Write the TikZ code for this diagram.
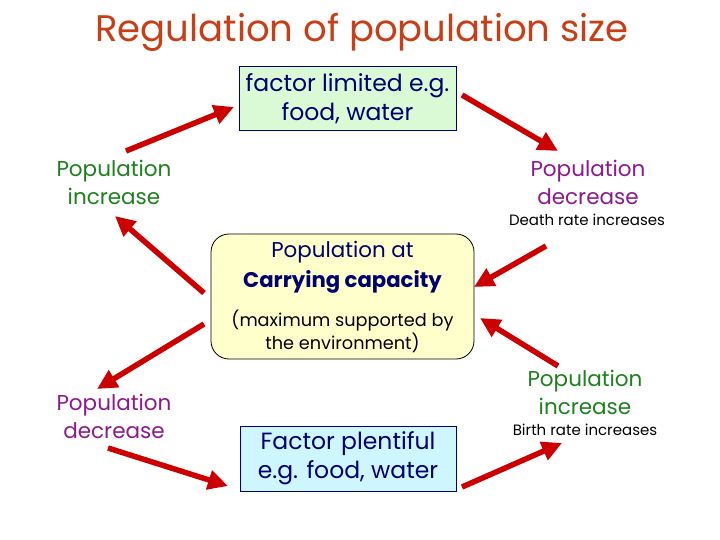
\documentclass[tikz,border=0pt]{standalone}
\usepackage{fontspec}
\setmainfont{Poppins}
\usetikzlibrary{arrows.meta,calc}
\definecolor{titlec}{RGB}{200,62,22}
\definecolor{arrowc}{RGB}{204,0,0}
\definecolor{navyc}{RGB}{0,0,110}
\definecolor{greenc}{RGB}{30,128,30}
\definecolor{purplec}{RGB}{140,26,140}
\definecolor{limfill}{RGB}{218,250,214}
\definecolor{capfill}{RGB}{255,255,204}
\definecolor{plenfill}{RGB}{206,246,255}
\tikzset{
  redarrow/.style={draw=arrowc, line width=5.5pt, -{Triangle[length=20pt,width=19pt]}},
  factorbox/.style={draw=navyc, line width=1pt, minimum width=217pt, minimum height=64pt, inner sep=0pt, align=center, text=navyc, font=\fontsize{23.5}{29}\selectfont},
  popgreen/.style={text=greenc, align=center, inner sep=0pt, font=\fontsize{21.5}{28}\selectfont},
  poppurple/.style={text=purplec, align=center, inner sep=0pt, font=\fontsize{21.5}{28}\selectfont},
  smallnote/.style={text=black, inner sep=0pt, font=\fontsize{15}{17}\selectfont},
}
\begin{document}
\begin{tikzpicture}[x=1pt,y=-1pt]
\useasboundingbox (0,0) rectangle (720,540);
% title
\node (title) [text=titlec, font=\fontsize{37}{40}\selectfont] at (362,32) {Regulation of population size};
% boxes
\node (lim) [factorbox, fill=limfill] at (347.5,99) {factor limited e.g.\\food, water};
\node (cap) [draw=black, line width=0.8pt, fill=capfill, rounded corners=18pt, minimum width=263pt, minimum height=125pt, inner sep=0pt] at (342.5,296.5) {};
\node (capa) [text=navyc, font=\fontsize{21.4}{24}\selectfont] at (342.5,252) {Population at};
\node (capb) [text=navyc, font=\bfseries\fontsize{21.2}{24}\selectfont] at (342.5,282) {Carrying capacity};
\node (capc) [text=black, align=center, font=\fontsize{17.7}{23}\selectfont] at (342.5,331.5) {(maximum supported by\\the environment)};
\node (plen) [factorbox, fill=plenfill, minimum width=216pt, minimum height=65pt] at (348,458.5) {Factor plentiful\\e.g. food, water};
% labels
\node (li) [popgreen] at (114,182) {Population\\increase};
\node (rd) [poppurple] at (588,182) {Population\\decrease};
\node (death) [smallnote] at (587,220) {Death rate increases};
\node (ld) [poppurple] at (114,416) {Population\\decrease};
\node (ri) [popgreen] at (585,392) {Population\\increase};
\node (birth) [smallnote] at (585,430) {Birth rate increases};
% arrow end points
\coordinate (a1s) at (126,151); \coordinate (a1e) at (234,107);
\coordinate (a2s) at (462,95);  \coordinate (a2e) at (558,151);
\coordinate (a3s) at (546,246); \coordinate (a3e) at (474,287);
\coordinate (a4s) at (558,366); \coordinate (a4e) at (480,318);
\coordinate (a5s) at (204,293); \coordinate (a5e) at (115,216);
\coordinate (a6s) at (204,324); \coordinate (a6e) at (97,389);
\coordinate (a7s) at (108,448); \coordinate (a7e) at (228,486);
\coordinate (a8s) at (462,487); \coordinate (a8e) at (562,443);
\foreach \i in {1,...,8} {\draw[redarrow] (a\i s) -- (a\i e);}
\end{tikzpicture}
\end{document}
